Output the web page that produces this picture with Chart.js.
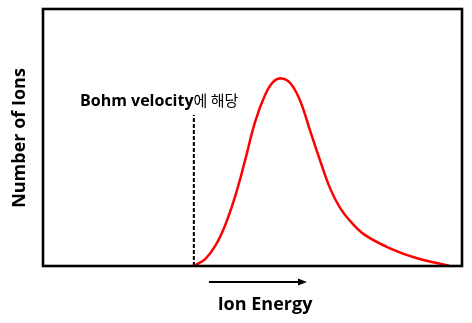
<!DOCTYPE html>
<html>
<head>
<meta charset="utf-8">
<script src="https://cdn.jsdelivr.net/npm/chart.js@4"></script>
<style>
  html, body { margin: 0; padding: 0; background: #fff; }
  #wrap { width: 472px; height: 323px; }
</style>
</head>
<body>
<div id="wrap"><canvas id="ionChart" width="472" height="323"></canvas></div>
<script>
// ion energy distribution (arbitrary units)
const energy = [3.60, 3.87, 4.11, 4.34, 4.58, 4.82, 5.06, 5.30, 5.50, 5.70, 5.90,
                6.13, 6.37, 6.61, 6.85, 7.09, 7.33, 7.68, 8.28, 8.93, 9.71];
const ionCount = [0, 0.27, 0.78, 1.56, 2.68, 4.09, 5.60, 6.65, 7.17, 7.30, 7.12,
                  6.46, 5.29, 4.12, 3.03, 2.26, 1.75, 1.21, 0.69, 0.30, 0];

// energy matching the Bohm velocity and the height of its marker
const bohmEnergy = 3.60;
const bohmTop = 5.88;

// direction arrow under the axis
const arrowFrom = 3.96;
const arrowTo = 6.30;

const labels = {
    x: 'Ion Energy',
    y: 'Number of Ions',
    bohm: 'Bohm velocity',
    bohmKo: '에 해당'
};

const curve = energy.map((e, i) => ({ x: e, y: ionCount[i] }));

const decorations = {
    id: 'decorations',
    afterDraw(chart) {
        const { ctx, chartArea: a, scales } = chart;
        ctx.save();

        // frame
        ctx.strokeStyle = '#000';
        ctx.lineWidth = 2.6;
        ctx.strokeRect(a.left, a.top, a.right - a.left, a.bottom - a.top);

        // arrow
        const x0 = scales.x.getPixelForValue(arrowFrom);
        const x1 = scales.x.getPixelForValue(arrowTo);
        const ay = 282;
        ctx.lineWidth = 2;
        ctx.beginPath();
        ctx.moveTo(x0, ay);
        ctx.lineTo(x1 - 6, ay);
        ctx.stroke();
        ctx.fillStyle = '#000';
        ctx.beginPath();
        ctx.moveTo(x1, ay);
        ctx.lineTo(x1 - 9, ay - 3.5);
        ctx.lineTo(x1 - 9, ay + 3.5);
        ctx.closePath();
        ctx.fill();

        // axis titles
        ctx.fillStyle = '#000';
        ctx.textBaseline = 'alphabetic';
        ctx.textAlign = 'center';
        ctx.font = "bold 18px 'Open Sans', 'Noto Sans CJK KR', sans-serif";
        ctx.fillText(labels.x, 265, 310);

        ctx.save();
        ctx.translate(25, 138);
        ctx.rotate(-Math.PI / 2);
        ctx.fillText(labels.y, 0, 0);
        ctx.restore();

        // Bohm marker label
        ctx.textAlign = 'left';
        ctx.font = "bold 16px 'Open Sans', 'Noto Sans CJK KR', sans-serif";
        const bx = 80;
        ctx.fillText(labels.bohm, bx, 106);
        const w = ctx.measureText(labels.bohm).width;
        ctx.font = "15px 'Noto Sans CJK KR', sans-serif";
        ctx.fillText(labels.bohmKo, bx + w, 106);

        ctx.restore();
    }
};

new Chart(document.getElementById('ionChart'), {
    type: 'line',
    data: {
        datasets: [
            {
                data: curve,
                borderColor: '#ff0000',
                borderWidth: 2.5,
                pointRadius: 0,
                tension: 0.4,
                fill: false,
                clip: false
            },
            {
                data: [{ x: bohmEnergy, y: 0 }, { x: bohmEnergy, y: bohmTop }],
                borderColor: '#000',
                borderWidth: 2,
                borderDash: [4, 2],
                pointRadius: 0,
                fill: false
            }
        ]
    },
    options: {
        responsive: false,
        animation: false,
        layout: { padding: { left: 43, top: 9, right: 10, bottom: 57 } },
        scales: {
            x: { type: 'linear', display: false, min: 0, max: 10 },
            y: { display: false, min: 0, max: 10 }
        },
        plugins: {
            legend: { display: false },
            tooltip: { enabled: false }
        }
    },
    plugins: [decorations]
});
</script>
</body>
</html>
